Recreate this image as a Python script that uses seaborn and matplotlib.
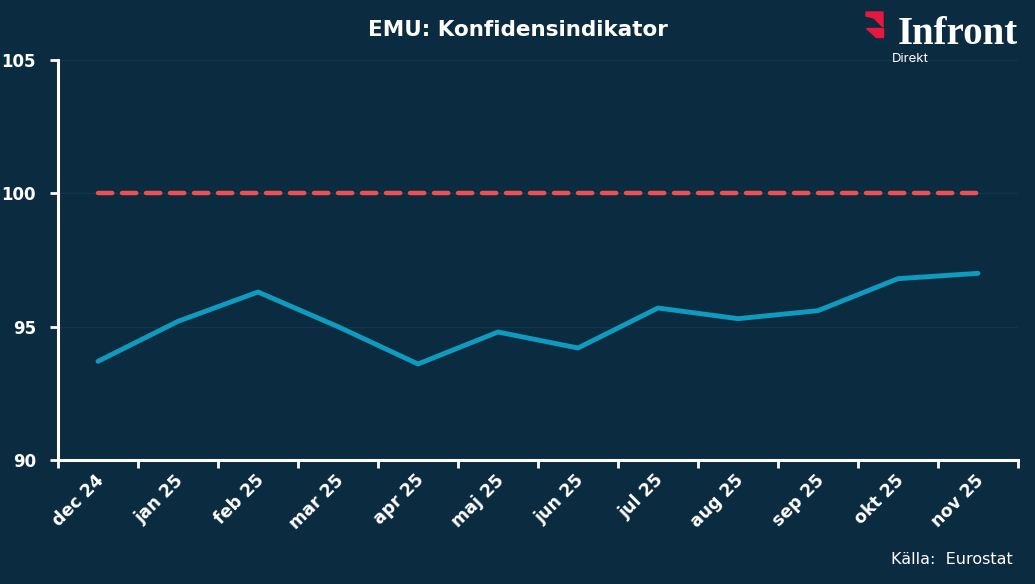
import numpy as np
import pandas as pd
import matplotlib
matplotlib.use("Agg")
import matplotlib.pyplot as plt
import seaborn as sns
from matplotlib.patches import Polygon

# data
months = ["dec 24", "jan 25", "feb 25", "mar 25", "apr 25", "maj 25",
          "jun 25", "jul 25", "aug 25", "sep 25", "okt 25", "nov 25"]
confidence = [93.7, 95.2, 96.3, 95.0, 93.6, 94.8, 94.2, 95.7, 95.3, 95.6, 96.8, 97.0]
reference_level = [100.0] * len(months)
y_ticks = [90, 95, 100, 105]

BG = "#0b2b40"
BLUE = "#0f9bc0"
RED = "#f04f52"

sns.set_theme(style="dark")
plt.rcParams["font.family"] = ["Verdana", "DejaVu Sans"]

df = pd.DataFrame({"month": months, "value": confidence, "ref": reference_level})
df["pos"] = np.arange(len(months))

fig = plt.figure(figsize=(10.35, 5.84), dpi=100, facecolor=BG)
ax = fig.add_axes([58 / 1035, 1 - 460 / 584, (1018 - 58) / 1035, 400 / 584])
ax.set_facecolor(BG)

ax.grid(False)
for y in y_ticks[1:]:
    ax.axhline(y, color="#12354a", lw=1.0, zorder=0)

sns.lineplot(data=df, x="pos", y="ref", ax=ax, color=RED, lw=3.2,
             dashes=False, zorder=2)
ax.lines[-1].set_dashes([3.2, 2.2])
ax.lines[-1].set_dash_capstyle("round")
sns.lineplot(data=df, x="pos", y="value", ax=ax, color=BLUE, lw=3.5, zorder=3)
ax.lines[-1].set_solid_capstyle("round")
ax.lines[-1].set_solid_joinstyle("round")

ax.set_xlim(-0.5, len(months) - 0.5)
ax.set_ylim(90, 105)
ax.set_yticks(y_ticks)
ax.set_yticklabels([str(t) for t in y_ticks], color="white", fontsize=12,
                   fontweight="bold")
# ticks at category boundaries, labels at centres
ax.set_xticks(np.arange(len(months) + 1) - 0.5)
ax.set_xticklabels([])
ax.set_xticks(np.arange(len(months)) - 0.04, minor=True)
ax.set_xticklabels(months, minor=True, rotation=45, ha="right",
                   rotation_mode="anchor", color="white", fontsize=12.5,
                   fontweight="bold")
ax.tick_params(axis="x", which="major", length=6, width=2, color="white",
               direction="out", bottom=True)
ax.tick_params(axis="x", which="minor", length=0, pad=8)
ax.tick_params(axis="y", length=6, width=2, color="white", direction="out",
               left=True, pad=10)
ax.set_xlabel("")
ax.set_ylabel("")

for side in ["top", "right"]:
    ax.spines[side].set_visible(False)
for side in ["left", "bottom"]:
    ax.spines[side].set_visible(True)
    ax.spines[side].set_color("white")
    ax.spines[side].set_linewidth(2.2)

fig.text(0.5, 1 - 30 / 584, "EMU: Konfidensindikator", color="white",
         fontsize=15.5, fontweight="bold", ha="center", va="center")
fig.text(1013 / 1035, 1 - 560 / 584, "Källa:  Eurostat", color="white",
         fontsize=11.5, ha="right", va="center")

# logo
fig.text(1018 / 1035, 1 - 44 / 584, "Infront", color="white", fontsize=28,
         fontweight="bold", family=["Liberation Serif", "DejaVu Serif"],
         ha="right", va="baseline")
fig.text(892 / 1035, 1 - 59 / 584, "Direkt", color="white", fontsize=9.5,
         family=["Inter", "DejaVu Sans"], ha="left", va="center")
px = lambda x, y: (x / 1035, 1 - y / 584)
fig.patches.append(Polygon([px(866, 12), px(883, 12), px(883, 27),
                            px(874, 18), px(866, 16)], closed=True,
                           transform=fig.transFigure, color="#e8173f"))
fig.patches.append(Polygon([px(866, 28), px(883, 28), px(883, 37),
                            px(876, 37)], closed=True,
                           transform=fig.transFigure, color="#e8173f"))

fig.savefig("out.png", dpi=100, facecolor=BG)
